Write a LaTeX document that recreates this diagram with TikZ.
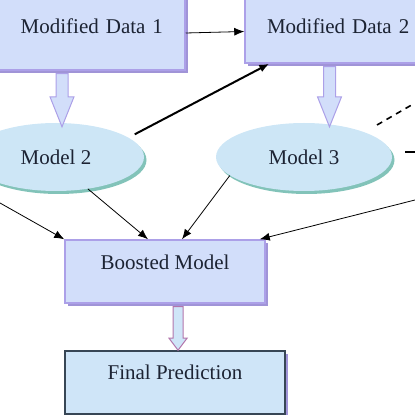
\documentclass[tikz,border=0pt]{standalone}
\usepackage{fontspec}
\setmainfont{Liberation Serif}
\usetikzlibrary{arrows.meta,shapes.geometric,shadows,calc}
\definecolor{boxfill}{RGB}{210,222,250}
\definecolor{boxline}{RGB}{172,160,232}
\definecolor{boxshade}{RGB}{160,148,215}
\definecolor{modfill}{RGB}{205,230,246}
\definecolor{modshade}{RGB}{130,195,185}
\definecolor{predfill}{RGB}{207,229,248}
\definecolor{predline}{RGB}{55,70,85}
\definecolor{inktext}{RGB}{28,35,51}
\tikzset{
    databox/.style={
           rectangle,
           draw=boxline,
           line width=1.5pt,
           fill=boxfill,
           inner ysep=0pt,
           text=inktext,
           font=\fontsize{21}{24}\selectfont,
           drop shadow={shadow xshift=2.5pt,shadow yshift=-3pt,fill=boxshade,opacity=1},
           },
    model/.style={
           ellipse,
           fill=modfill,
           inner sep=0pt,
           minimum width=176pt,
           minimum height=68pt,
           text=inktext,
           font=\fontsize{21}{24}\selectfont,
           drop shadow={shadow xshift=2.5pt,shadow yshift=-3pt,fill=modshade,opacity=1},
           },
    fatstyle/.style={fill=boxfill,draw=boxline,line width=1pt},
    fatblue/.style={fill=predfill,draw=boxshade!80!red,line width=1pt},
}
% hollow block arrow: style, from, to, shaft half width, head half width, head length
\newcommand{\fatarrow}[6]{%
  \draw[#1] let \p1=(#2), \p2=(#3) in
    (\x1-#4,\y1) -- (\x1-#4,\y2+#6) -- (\x1-#5,\y2+#6) -- (\x1,\y2)
    -- (\x1+#5,\y2+#6) -- (\x1+#4,\y2+#6) -- (\x1+#4,\y1) -- cycle;}

\begin{document}
\begin{tikzpicture}[x=1pt,y=1pt,->,>={Latex[length=10pt,width=8pt]}]
\useasboundingbox (0,0) rectangle (415,415);
\node[databox,text width=166pt,align=right,inner xsep=22pt,text height=44pt,text depth=36pt]
  (data1) at (80,385) {Modified Data 1};
\node[databox,text width=151pt,align=left,inner xsep=22pt,text height=44pt,text depth=29pt]
  (data2) at (342.5,388.5) {Modified Data 2};
\node[model](model2) at (56,258) {Model 2};
\node[model](model3) at (304,258) {Model 3};
\node[databox,minimum width=200pt,text height=30pt,text depth=33pt]
  (boosted) at (165,143.5) {Boosted Model};
\node[databox,draw=predline,fill=predfill,drop shadow={opacity=0},minimum width=220pt,text height=29pt,text depth=34pt]
  (final) at (175,32.5) {Final Prediction};
\coordinate (leftin) at (0,212);
\coordinate (rightin) at (415,215);
\coordinate (dashA) at (377,290);
\coordinate (dashB) at (415,312);
\coordinate (dashC) at (405,263);
\coordinate (dashD) at (415,263);
% block arrows
\fatarrow{fatstyle,-}{[xshift=-18pt,yshift=-3pt]data1.south}{[yshift=-4pt]model2.north}{6pt}{12pt}{30pt}
\fatarrow{fatstyle,-}{[xshift=-13pt,yshift=-3pt]data2.south}{[yshift=-4pt]model3.north}{6pt}{12pt}{30pt}
\fatarrow{fatblue,-}{[xshift=13pt,yshift=-3pt]boosted.south}{final.north}{5pt}{9pt}{12pt}
% connectors
\path[line width=0.8pt] ([yshift=-3pt]data1.east) edge ([yshift=-5pt]data2.west)
      (model2.-45) edge ([xshift=-17pt]boosted.north)
      (model3.194) edge ([xshift=17pt]boosted.north)
      (leftin) edge (boosted.north west)
      (rightin) edge ([xshift=-6pt]boosted.north east);
\draw[line width=2pt,shorten <=7pt] (model2.15) -- ([xshift=25pt]data2.south west);
\draw[dashed,-,line width=1.6pt,dash pattern=on 6pt off 5pt] (dashA) -- (dashB);
\draw[-,line width=1.6pt] (dashC) -- (dashD);
\end{tikzpicture}
\end{document}
